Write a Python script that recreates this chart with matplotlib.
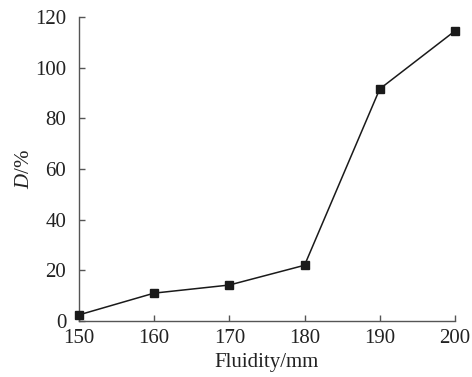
import matplotlib
matplotlib.use("Agg")
import matplotlib.pyplot as plt

fluidity = [150, 160, 170, 180, 190, 200]
D = [2.4, 11, 14.2, 22, 91.6, 114.5]
xticks = [150, 160, 170, 180, 190, 200]
yticks = [0, 20, 40, 60, 80, 100, 120]

plt.rcParams['font.family'] = ['Liberation Serif', 'DejaVu Serif']
plt.rcParams['mathtext.fontset'] = 'custom'
plt.rcParams['mathtext.it'] = 'Liberation Serif:italic'
plt.rcParams['mathtext.rm'] = 'Liberation Serif'

fig = plt.figure(figsize=(4.72, 3.77), dpi=100)
ax = fig.add_axes([0.167, 0.1485, 0.797, 0.8065])
ax.plot(fluidity, D, color='#1a1a1a', lw=1.1, marker='s', ms=6, mfc='#1a1a1a', mec='#1a1a1a', clip_on=False, zorder=3)
ax.set_xlim(150, 200)
ax.set_ylim(0, 120)
ax.set_xticks(xticks)
ax.set_yticks(yticks)
for s in ['top', 'right']:
    ax.spines[s].set_visible(False)
for s in ['left', 'bottom']:
    ax.spines[s].set_color('#555555')
    ax.spines[s].set_linewidth(1.0)
ax.tick_params(direction='in', length=4, width=1.0, color='#555555', labelsize=15, labelcolor='#222222')
ax.tick_params(axis='x', pad=6)
ax.tick_params(axis='y', pad=9)
ax.set_xlabel('Fluidity/mm', fontsize=15, color='#222222', labelpad=3)
ax.set_ylabel(r'$D$/%', fontsize=15, color='#222222', labelpad=1)
fig.savefig('out.png', dpi=100)
